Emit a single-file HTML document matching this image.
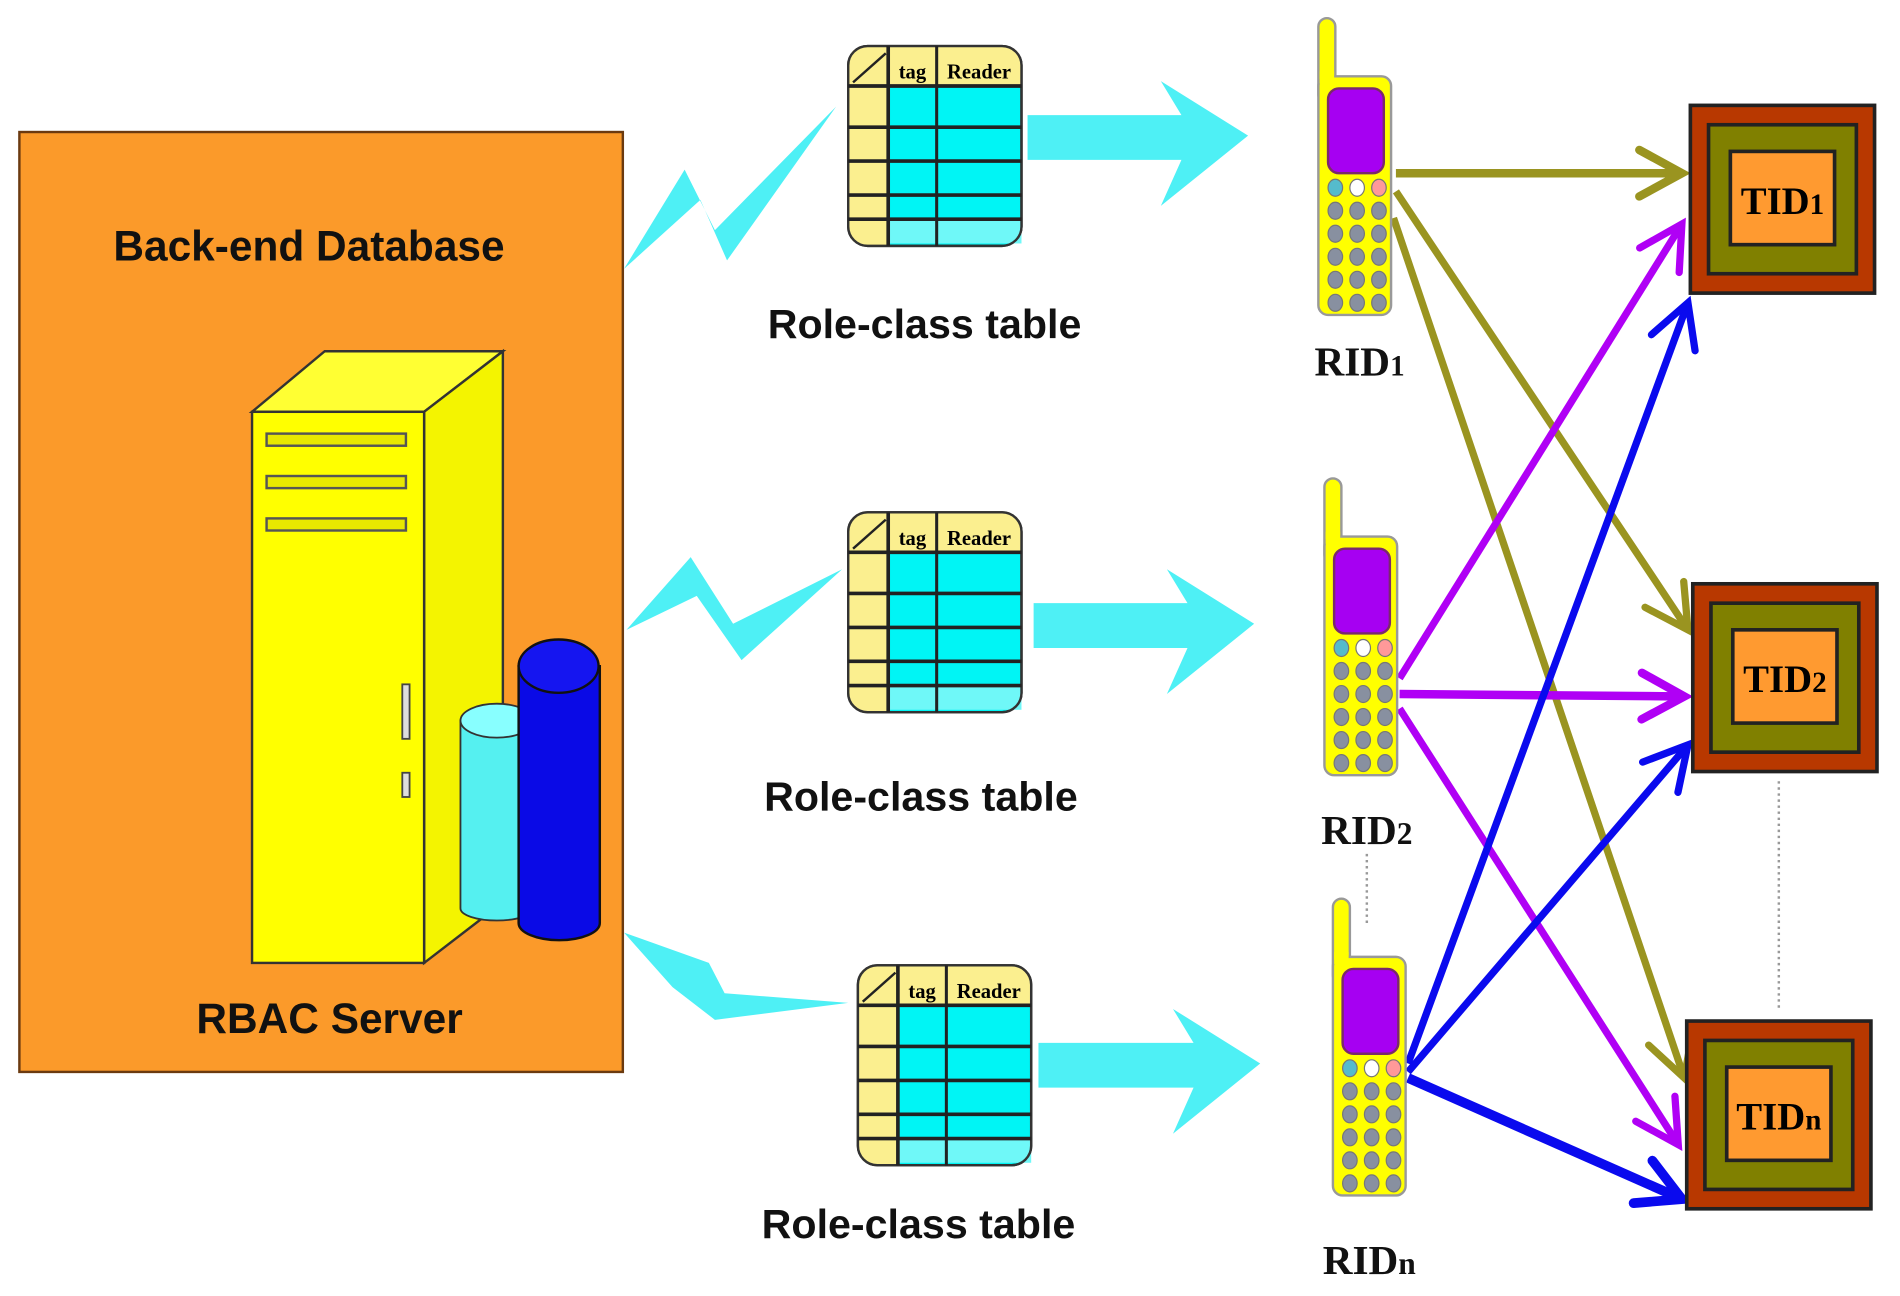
<!DOCTYPE html>
<html><head><meta charset="utf-8"><style>
html,body{margin:0;padding:0;background:#fff;}
svg{display:block;}
.lbl{font-family:"Liberation Sans",sans-serif;font-weight:bold;font-size:34px;fill:#111;}
.rid{font-family:"Liberation Serif",serif;font-weight:bold;font-size:34px;fill:#111;}
</style></head><body>
<svg id="s" width="1900" height="1296" viewBox="0 0 1568 1070" preserveAspectRatio="none" xmlns="http://www.w3.org/2000/svg">
<rect x="0" y="0" width="1568" height="1070" fill="#fff"/>
<rect x="16" y="109" width="498" height="776" fill="#fb9a2a" stroke="#6b3a10" stroke-width="2"/>
<text class="lbl" x="255" y="215" text-anchor="middle" style="font-size:35px">Back-end Database</text>
<text class="lbl" x="272" y="853" text-anchor="middle" style="font-size:35px">RBAC Server</text>
<polygon points="208,340 268,290 415,290 350,340" fill="#ffff33" stroke="#333" stroke-width="2"/>
<polygon points="350,340 415,290 415,745 350,795" fill="#f4f400" stroke="#333" stroke-width="2"/>
<rect x="208" y="340" width="142" height="455" fill="#ffff00" stroke="#333" stroke-width="2"/>
<rect x="220" y="358" width="115" height="10" fill="#e8e800" stroke="#555" stroke-width="2"/>
<rect x="220" y="393" width="115" height="10" fill="#e8e800" stroke="#555" stroke-width="2"/>
<rect x="220" y="428" width="115" height="10" fill="#e8e800" stroke="#555" stroke-width="2"/>
<rect x="332" y="565" width="6" height="45" fill="#ddd" stroke="#444" stroke-width="1.5"/>
<rect x="332" y="638" width="6" height="20" fill="#ddd" stroke="#444" stroke-width="1.5"/>
<path d="M380,595 L380,750 A30,10 0 0 0 440,750 L440,595 Z" fill="#55f0f0" stroke="#333" stroke-width="1.5"/>
<ellipse cx="410" cy="595" rx="30" ry="14" fill="#8ff" stroke="#333" stroke-width="1.5"/>
<path d="M428,550 L428,762 A33,14 0 0 0 495,762 L495,550 Z" fill="#0a0ae6" stroke="#111" stroke-width="2"/>
<ellipse cx="461" cy="550" rx="33" ry="22" fill="#1515f0" stroke="#111" stroke-width="2"/>
<g id="dyn"></g>
<text class="lbl" x="763" y="279" text-anchor="middle">Role-class table</text>
<text class="lbl" x="760" y="669" text-anchor="middle">Role-class table</text>
<text class="lbl" x="758" y="1022" text-anchor="middle">Role-class table</text>
<text class="rid" x="1122" y="310" text-anchor="middle">RID<tspan style="font-size:24px">1</tspan></text>
<text class="rid" x="1128" y="697" text-anchor="middle">RID<tspan style="font-size:26px">2</tspan></text>
<text class="rid" x="1130" y="1052" text-anchor="middle">RID<tspan style="font-size:26px">n</tspan></text>
<line x1="1128" y1="705" x2="1128" y2="762" stroke="#999" stroke-width="2" stroke-dasharray="2,3"/>
<line x1="1468" y1="645" x2="1468" y2="835" stroke="#999" stroke-width="2" stroke-dasharray="2,3"/>
</svg>
<script>
var NS="http://www.w3.org/2000/svg",g=document.getElementById("dyn");
function el(t,a,txt){var e=document.createElementNS(NS,t);for(var k in a)e.setAttribute(k,a[k]);if(txt)e.textContent=txt;g.appendChild(e);return e;}
el("polygon",{points:"515,222 565,140 590,190 690,88 600,215 578,165",fill:"#4ef0f5"});
el("polygon",{points:"517,520 570,460 605,515 695,470 612,545 575,492",fill:"#4ef0f5"});
el("polygon",{points:"515,770 585,795 598,820 700,828 590,842 555,815",fill:"#4ef0f5"});
function bigp(x1,x2,y){var p=[[x1,y-17],[x2-55,y-17],[x2-72,y-45],[x2,y],[x2-72,y+58],[x2-55,y+20],[x1,y+20]];el("polygon",{points:p.map(function(a){return a.join(",")}).join(" "),fill:"#4ef0f5"});}
bigp(848,1030,112);bigp(853,1035,515);bigp(857,1040,878);
function table(x,y){var w=143,h=165;
 el("rect",{x:x,y:y,width:w,height:h,rx:16,fill:"#00f5f5",stroke:"#333","stroke-width":2});
 el("path",{d:"M"+(x+33)+","+y+" L"+(x+16)+","+y+" Q"+x+","+y+" "+x+","+(y+16)+" L"+x+","+(y+h-16)+" Q"+x+","+(y+h)+" "+(x+16)+","+(y+h)+" L"+(x+33)+","+(y+h)+" Z",fill:"#fbef8f"});
 el("path",{d:"M"+(x+16)+","+y+" L"+(x+w-16)+","+y+" Q"+(x+w)+","+y+" "+(x+w)+","+(y+16)+" L"+(x+w)+","+(y+33)+" L"+x+","+(y+33)+" L"+x+","+(y+16)+" Q"+x+","+y+" "+(x+16)+","+y+"Z",fill:"#fbef8f"});
 el("rect",{x:x+33,y:y+h-22,width:w-33,height:20,fill:"#6ff8f8"});
 el("rect",{x:x,y:y,width:w,height:h,rx:16,fill:"none",stroke:"#333","stroke-width":2});
 [33,67,95,123,143].forEach(function(d){el("line",{x1:x,y1:y+d,x2:x+w,y2:y+d,stroke:"#222","stroke-width":3});});
 el("line",{x1:x+33,y1:y,x2:x+33,y2:y+h,stroke:"#222","stroke-width":3});
 el("line",{x1:x+73,y1:y,x2:x+73,y2:y+h,stroke:"#222","stroke-width":2.5});
 el("line",{x1:x+4,y1:y+30,x2:x+31,y2:y+6,stroke:"#222","stroke-width":2});
 el("text",{x:x+53,y:y+27,"text-anchor":"middle","font-family":"Liberation Serif","font-weight":"bold","font-size":"17"},"tag");
 el("text",{x:x+108,y:y+27,"text-anchor":"middle","font-family":"Liberation Serif","font-weight":"bold","font-size":"17"},"Reader");
}
table(700,38);table(700,423);table(708,797);
function arr(x1,y1,x2,y2,c,w){el("line",{x1:x1,y1:y1,x2:x2,y2:y2,stroke:c,"stroke-width":w});
 var a=Math.atan2(y2-y1,x2-x1),L=40,s=0.5;
 el("polyline",{points:(x2-L*Math.cos(a-s))+","+(y2-L*Math.sin(a-s))+" "+x2+","+y2+" "+(x2-L*Math.cos(a+s))+","+(y2-L*Math.sin(a+s)),fill:"none",stroke:c,"stroke-width":w,"stroke-linecap":"round"});}
var ol="#9a9420",pu="#b000f5",bl="#0a0aee";
arr(1152,143,1388,143,ol,7);arr(1152,158,1393,520,ol,6);arr(1150,180,1390,890,ol,6);
arr(1155,560,1388,185,pu,6);arr(1155,573,1390,575,pu,7);arr(1155,585,1385,945,pu,6);
arr(1162,878,1393,250,bl,6);arr(1162,885,1393,615,bl,6);arr(1162,890,1388,990,bl,8);
function phone(x,y){var w=60,h=245;
 el("rect",{x:x,y:y,width:14,height:70,rx:7,fill:"#ffff00",stroke:"#999",'stroke-width':2});
 el("rect",{x:x,y:y+48,width:w,height:h-48,rx:8,fill:"#ffff00",stroke:"#999","stroke-width":2});
 el("rect",{x:x+1,y:y+44,width:12,height:10,fill:"#ffff00"});
 el("rect",{x:x+8,y:y+58,width:46,height:70,rx:9,fill:"#a600f2",stroke:"#7a2a6a","stroke-width":2});
 var cols=["#5bc","#fff","#f99"];
 for(var r=0;r<6;r++)for(var c=0;c<3;c++)el("ellipse",{cx:x+14+c*18,cy:y+140+r*19,rx:6,ry:7,fill:r==0?cols[c]:"#8890a0",stroke:"#777","stroke-width":1});
}
phone(1088,15);phone(1093,395);phone(1100,742);
function tid(x,y,t,sub){var w=152,h=155;
 el("rect",{x:x,y:y,width:w,height:h,fill:"#b83800",stroke:"#222","stroke-width":3});
 el("rect",{x:x+15,y:y+16,width:w-30,height:h-32,fill:"#808000",stroke:"#222","stroke-width":3});
 el("rect",{x:x+33,y:y+38,width:w-66,height:h-78,fill:"#ff9a30",stroke:"#222","stroke-width":3});
 var tx=el("text",{x:x+w/2,y:y+h/2+12,"text-anchor":"middle","font-family":"Liberation Serif","font-weight":"bold","font-size":"32"},t);
 var ts=document.createElementNS(NS,"tspan");ts.setAttribute("font-size","24");ts.textContent=sub;tx.appendChild(ts);
}
tid(1395,87,"TID","1");tid(1397,482,"TID","2");tid(1392,843,"TID","n");
</script>
</body></html>
